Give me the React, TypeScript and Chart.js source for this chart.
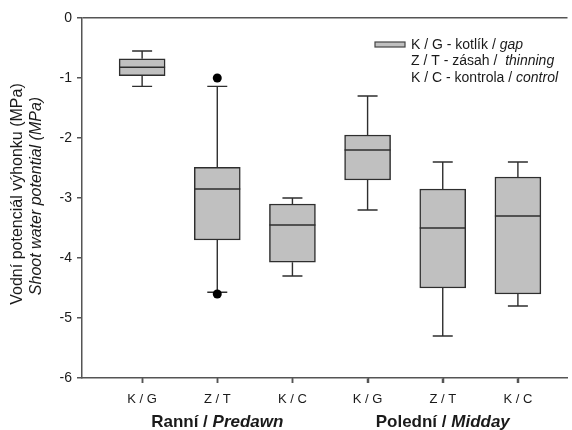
import { useEffect, useRef } from "react";
import { Chart, registerables } from "chart.js";

Chart.register(...registerables);

// Treatment codes along the x axis (two sampling times, three treatments each)
const categories = ["K / G", "Z / T", "K / C", "K / G", "Z / T", "K / C"];
const positions = [1, 2, 3, 4, 5, 6];

// Box-plot statistics of shoot water potential (MPa)
const whiskerLow = [-1.14, -4.57, -4.3, -3.2, -5.3, -4.8];
const q1 = [-0.96, -3.7, -4.07, -2.7, -4.5, -4.6];
const medians = [-0.82, -2.85, -3.45, -2.2, -3.5, -3.3];
const q3 = [-0.68, -2.49, -3.1, -1.95, -2.85, -2.65];
const whiskerHigh = [-0.55, -1.14, -3.0, -1.3, -2.4, -2.4];

// Outlying observations
const outlierX = [2, 2];
const outlierY = [-1.0, -4.6];

// Y axis range
const yMin = -6;
const yMax = 0;

// Sampling-time groups under the category labels
const groupCz = ["Ranní / ", "Polední / "];
const groupEn = ["Predawn", "Midday"];
const groupFrom = [1, 4];
const groupTo = [3, 6];

// Legend entries
const legendCz = ["K / G - kotlík / ", "Z / T - zásah /  ", "K / C - kontrola / "];
const legendEn = ["gap", "thinning", "control"];

// Axis titles
const yTitleCz = "Vodní potenciál výhonku (MPa)";
const yTitleEn = "Shoot water potential (MPa)";

const FONT = "'Liberation Sans', Arial, Helvetica, sans-serif";
const BOX_FILL = "#c0c0c0";
const LINE = "#2e2e2e";
const AXIS = "#555555";
const TEXT = "#1a1a1a";

const boxPlotPlugin = {
  id: "boxWhiskers",
  afterDatasetDraw(chart: any, args: any) {
    if (args.meta.type !== "bar") return;
    const { ctx, scales } = chart;
    const xs = scales.x;
    const ys = scales.y;
    const capHalf = 10;
    const boxHalf = 23;
    ctx.save();
    ctx.strokeStyle = LINE;
    ctx.lineWidth = 1.4;
    positions.forEach((p, i) => {
      const x = xs.getPixelForValue(p);
      const yLo = ys.getPixelForValue(whiskerLow[i]);
      const yQ1 = ys.getPixelForValue(q1[i]);
      const yQ3 = ys.getPixelForValue(q3[i]);
      const yHi = ys.getPixelForValue(whiskerHigh[i]);
      const yMed = ys.getPixelForValue(medians[i]);
      ctx.beginPath();
      // lower whisker and cap
      ctx.moveTo(x, yQ1);
      ctx.lineTo(x, yLo);
      ctx.moveTo(x - capHalf, yLo);
      ctx.lineTo(x + capHalf, yLo);
      // upper whisker and cap
      ctx.moveTo(x, yQ3);
      ctx.lineTo(x, yHi);
      ctx.moveTo(x - capHalf, yHi);
      ctx.lineTo(x + capHalf, yHi);
      ctx.stroke();
      // median
      ctx.beginPath();
      ctx.lineWidth = 1.6;
      ctx.moveTo(x - boxHalf, yMed);
      ctx.lineTo(x + boxHalf, yMed);
      ctx.stroke();
      ctx.lineWidth = 1.4;
    });
    ctx.restore();
  },
};

const labelsPlugin = {
  id: "extraLabels",
  afterDraw(chart: any) {
    const { ctx, scales, chartArea } = chart;
    const xs = scales.x;
    ctx.save();

    // Category tick marks below the x axis
    ctx.strokeStyle = AXIS;
    ctx.lineWidth = 1.5;
    ctx.beginPath();
    positions.forEach((p) => {
      const x = Math.round(xs.getPixelForValue(p)) + 0.5;
      ctx.moveTo(x, chartArea.bottom);
      ctx.lineTo(x, chartArea.bottom + 5);
    });
    ctx.stroke();

    ctx.fillStyle = TEXT;

    // Two-line rotated y-axis title
    ctx.textAlign = "center";
    ctx.textBaseline = "middle";
    ctx.save();
    ctx.translate(18, 194);
    ctx.rotate(-Math.PI / 2);
    ctx.font = `16px ${FONT}`;
    ctx.fillText(yTitleCz, 0, 0);
    ctx.restore();
    ctx.save();
    ctx.translate(37, 196);
    ctx.rotate(-Math.PI / 2);
    ctx.font = `italic 16px ${FONT}`;
    ctx.fillText(yTitleEn, 0, 0);
    ctx.restore();

    // Group labels (bold, English part bold italic)
    ctx.textAlign = "left";
    groupCz.forEach((cz, i) => {
      const cx = (xs.getPixelForValue(groupFrom[i]) + xs.getPixelForValue(groupTo[i])) / 2;
      ctx.font = `bold 17px ${FONT}`;
      const w1 = ctx.measureText(cz).width;
      ctx.font = `italic bold 17px ${FONT}`;
      const w2 = ctx.measureText(groupEn[i]).width;
      const start = cx - (w1 + w2) / 2;
      ctx.font = `bold 17px ${FONT}`;
      ctx.fillText(cz, start, 422);
      ctx.font = `italic bold 17px ${FONT}`;
      ctx.fillText(groupEn[i], start + w1, 422);
    });

    // Legend
    ctx.fillStyle = BOX_FILL;
    ctx.fillRect(375, 42, 30, 5);
    ctx.strokeStyle = "#444";
    ctx.lineWidth = 1.2;
    ctx.strokeRect(375, 42, 30, 5);
    ctx.fillStyle = TEXT;
    const lineY = [45, 61.5, 78];
    legendCz.forEach((cz, i) => {
      ctx.font = `14px ${FONT}`;
      const w = ctx.measureText(cz).width;
      ctx.fillText(cz, 411, lineY[i]);
      ctx.font = `italic 14px ${FONT}`;
      ctx.fillText(legendEn[i], 411 + w, lineY[i]);
    });
    ctx.restore();
  },
};

export default function App() {
  const canvasRef = useRef<HTMLCanvasElement | null>(null);

  useEffect(() => {
    if (!canvasRef.current) return;
    const chart = new Chart(canvasRef.current, {
      type: "bar",
      data: {
        datasets: [
          {
            type: "scatter",
            data: outlierX.map((x, i) => ({ x, y: outlierY[i] })),
            backgroundColor: "#000",
            borderWidth: 0,
            pointRadius: 4.5,
            order: 0,
          } as any,
          {
            type: "bar",
            data: positions.map((x, i) => ({ x, y: [q1[i], q3[i]] })),
            backgroundColor: BOX_FILL,
            borderColor: LINE,
            borderWidth: 1.5,
            borderSkipped: false,
            barThickness: 46,
            order: 1,
          } as any,
        ],
      },
      options: {
        animation: false,
        responsive: false,
        devicePixelRatio: 1,
        layout: { padding: { top: 18, right: 0, left: 0, bottom: 0 } },
        plugins: { legend: { display: false }, tooltip: { enabled: false } },
        font: { family: FONT },
        scales: {
          x: {
            type: "linear",
            min: 0.2,
            max: 6.66,
            offset: false,
            afterBuildTicks: (scale: any) => {
              scale.ticks = positions.map((v) => ({ value: v }));
            },
            afterFit: (scale: any) => {
              scale.height = 52;
            },
            ticks: {
              autoSkip: false,
              maxRotation: 0,
              padding: 9,
              color: TEXT,
              font: { size: 13, family: FONT },
              callback: (_v: any, i: number) => categories[i],
            },
            grid: {
              offset: false,
              drawOnChartArea: false,
              drawTicks: true,
              tickLength: 5,
              tickColor: AXIS,
              tickWidth: 1.5,
            },
            border: { display: true, color: AXIS, width: 1.5 },
          },
          y: {
            min: yMin,
            max: yMax,
            afterFit: (scale: any) => {
              scale.width = 82;
            },
            ticks: {
              stepSize: 1,
              padding: 5,
              color: TEXT,
              font: { size: 14, family: FONT },
              callback: (v: any) => String(v),
            },
            grid: {
              drawOnChartArea: true,
              drawTicks: true,
              tickLength: 5,
              tickColor: AXIS,
              tickWidth: 1.5,
              lineWidth: 1.5,
              color: (c: any) => (c.tick && c.tick.value === yMax ? AXIS : "rgba(0,0,0,0)"),
            },
            border: { display: true, color: AXIS, width: 1.5 },
          },
        },
      } as any,
      plugins: [boxPlotPlugin, labelsPlugin],
    });
    return () => chart.destroy();
  }, []);

  return (
    <div style={{ position: "absolute", left: 0, top: 0, width: 572, height: 430, background: "#fff" }}>
      <canvas ref={canvasRef} width={572} height={430} style={{ display: "block" }} />
    </div>
  );
}
